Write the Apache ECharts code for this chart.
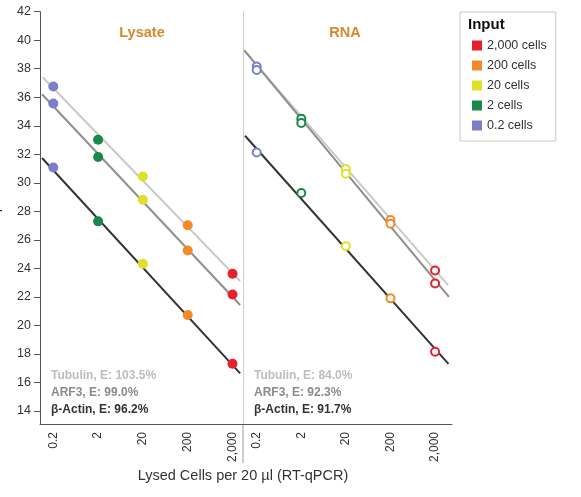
<!DOCTYPE html>
<html><head><meta charset="utf-8">
<script src="https://cdn.jsdelivr.net/npm/echarts@6/dist/echarts.min.js"></script>
<style>html,body{margin:0;padding:0;background:#fff}#c{width:581px;height:497px}</style>
</head><body><div id="c"></div><script>
// x positions: decade index 0..4 = 0.2, 2, 20, 200, 2,000 cells
const cellLabels = ['0.2 cells', '2 cells', '20 cells', '200 cells', '2,000 cells'];
const cellColors = ['#7b7fc6', '#19894a', '#dde12c', '#f4892a', '#e6212b'];
const xTickLabels = ['0.2', '2', '20', '200', '2,000'];
const xTickPos = [0, 1, 2, 3, 4];
const yTicks = [14, 16, 18, 20, 22, 24, 26, 28, 30, 32, 34, 36, 38, 40, 42];

// Cq values (Lysate panel, filled markers)
const lysateTubulin = [36.75, 33.02, 30.45, 27.02, 23.62];
const lysateARF3    = [35.56, 31.81, 28.82, 25.25, 22.17];
const lysateActin   = [31.08, 27.30, 24.32, 20.73, 17.32];
// Cq values (RNA panel, hollow markers)
const rnaTubulin = [38.15, 34.49, 30.97, 27.39, 23.85];
const rnaARF3    = [37.92, 34.19, 30.64, 27.14, 22.94];
const rnaActin   = [32.13, 29.29, 25.56, 21.90, 18.16];

// fitted lines: [x, Cq] at both ends
const lysateTubulinFit = [[-0.237, 37.40], [4.17, 23.12]];
const lysateARF3Fit    = [[-0.252, 36.21], [4.17, 21.43]];
const lysateActinFit   = [[-0.252, 31.74], [4.17, 16.64]];
const rnaLightFit  = [[-0.262, 39.20], [4.29, 22.83]];
const rnaMediumFit = [[-0.280, 39.30], [4.31, 22.00]];
const rnaActinFit  = [[-0.262, 33.30], [4.30, 17.30]];

const lysateNotes = ['Tubulin, E: 103.5%', 'ARF3, E: 99.0%', 'β-Actin, E: 96.2%'];
const rnaNotes    = ['Tubulin, E: 84.0%', 'ARF3, E: 92.3%', 'β-Actin, E: 91.7%'];

const FONT = '"Liberation Sans", Arial, Helvetica, sans-serif';
const chart = echarts.init(document.getElementById('c'), null, {renderer: 'canvas'});

const Y_MIN = 13.09, Y_MAX = 42;
function xAxisFor(gi, min, max) {
  return {
    type: 'value', gridIndex: gi, min: min, max: max,
    axisLine: {show: true, onZero: false, lineStyle: {color: '#555', width: 1}},
    axisTick: {show: false},
    splitLine: {show: false},
    axisLabel: {
      customValues: xTickPos, rotate: 90, margin: 8,
      formatter: v => xTickLabels[Math.round(v)],
      fontSize: 12, color: '#333', fontFamily: FONT
    }
  };
}
function yAxisFor(gi) {
  const left = gi === 0;
  return {
    type: 'value', gridIndex: gi, min: Y_MIN, max: Y_MAX,
    name: left ? 'Cq' : '', nameLocation: 'middle', nameGap: 38,
    nameTextStyle: {fontSize: 14, color: '#333', fontFamily: FONT},
    axisLine: {show: true, onZero: false, lineStyle: {color: left ? '#555' : '#cfcfcf', width: 1}},
    axisTick: {show: left, customValues: yTicks, length: 6, lineStyle: {color: '#555'}},
    splitLine: {show: false},
    axisLabel: {show: left, customValues: yTicks, margin: 9, fontSize: 12.5, color: '#333', fontFamily: FONT}
  };
}

const series = [];
const lineDefs = [
  [0, lysateTubulinFit, '#c9c9c9'], [0, lysateARF3Fit, '#8e8e8e'], [0, lysateActinFit, '#333333'],
  [1, rnaLightFit, '#c9c9c9'], [1, rnaMediumFit, '#8e8e8e'], [1, rnaActinFit, '#333333']
];
lineDefs.forEach(([gi, pts, col]) => {
  series.push({
    type: 'line', xAxisIndex: gi, yAxisIndex: gi, data: pts, showSymbol: false, silent: true,
    lineStyle: {color: col, width: 2}, z: 1, animation: false
  });
});
const panelGenes = [[lysateTubulin, lysateARF3, lysateActin], [rnaTubulin, rnaARF3, rnaActin]];
panelGenes.forEach((genes, gi) => {
  cellLabels.forEach((name, k) => {
    series.push({
      type: 'scatter', name: name, xAxisIndex: gi, yAxisIndex: gi,
      data: genes.map(g => [xTickPos[k], g[k]]),
      symbol: 'circle', symbolSize: gi === 0 ? 10 : 8,
      itemStyle: gi === 0 ? {color: cellColors[k], opacity: 1} : {color: '#fff', borderColor: cellColors[k], borderWidth: 2, opacity: 1},
      z: 3, animation: false
    });
  });
});

function noteTexts(x, notes) {
  const cols = ['#bdbdbd', '#8a8a8a', '#333333'];
  const ys = [376, 393, 410];
  return notes.map((t, i) => ({
    type: 'text', x: x, y: ys[i],
    style: {text: t, fill: cols[i], font: 'bold 12px ' + FONT, align: 'left', verticalAlign: 'middle'}
  }));
}

chart.setOption({
  animation: false,
  grid: [
    {left: 40, top: 11.7, width: 203, height: 412.3, containLabel: false, outerBoundsMode: 'none'},
    {left: 243, top: 11.7, width: 209, height: 412.3, containLabel: false, outerBoundsMode: 'none'}
  ],
  xAxis: [xAxisFor(0, -0.297, 4.234), xAxisFor(1, -0.307, 4.379)],
  yAxis: [yAxisFor(0), yAxisFor(1)],
  legend: {
    orient: 'vertical', left: 460, top: 12,
    padding: [27, 9, 9, 12], borderColor: '#c8c8c8', borderWidth: 1,
    itemWidth: 10, itemHeight: 10, itemGap: 7, icon: 'rect',
    textStyle: {fontSize: 12.5, color: '#333', fontFamily: FONT},
    data: cellLabels.slice().reverse().map((n) => ({name: n, itemStyle: {color: cellColors[cellLabels.indexOf(n)], borderWidth: 0, opacity: 1}}))
  },
  graphic: [
    {type: 'text', x: 142, y: 33, style: {text: 'Lysate', fill: '#d4892f', font: 'bold 14.5px ' + FONT, align: 'center', verticalAlign: 'middle'}},
    {type: 'text', x: 345, y: 33, style: {text: 'RNA', fill: '#d4892f', font: 'bold 14.5px ' + FONT, align: 'center', verticalAlign: 'middle'}},
    {type: 'text', x: 468, y: 25, style: {text: 'Input', fill: '#111', font: 'bold 15px ' + FONT, align: 'left', verticalAlign: 'middle'}},
    {type: 'line', shape: {x1: 243, y1: 424, x2: 243, y2: 463}, style: {stroke: '#999', lineWidth: 1}},
    {type: 'text', x: 243, y: 476, style: {text: 'Lysed Cells per 20 µl (RT-qPCR)', fill: '#333', font: '14.5px ' + FONT, align: 'center', verticalAlign: 'middle'}}
  ].concat(noteTexts(51, lysateNotes), noteTexts(254, rnaNotes)),
  series: series
});
</script></body></html>
